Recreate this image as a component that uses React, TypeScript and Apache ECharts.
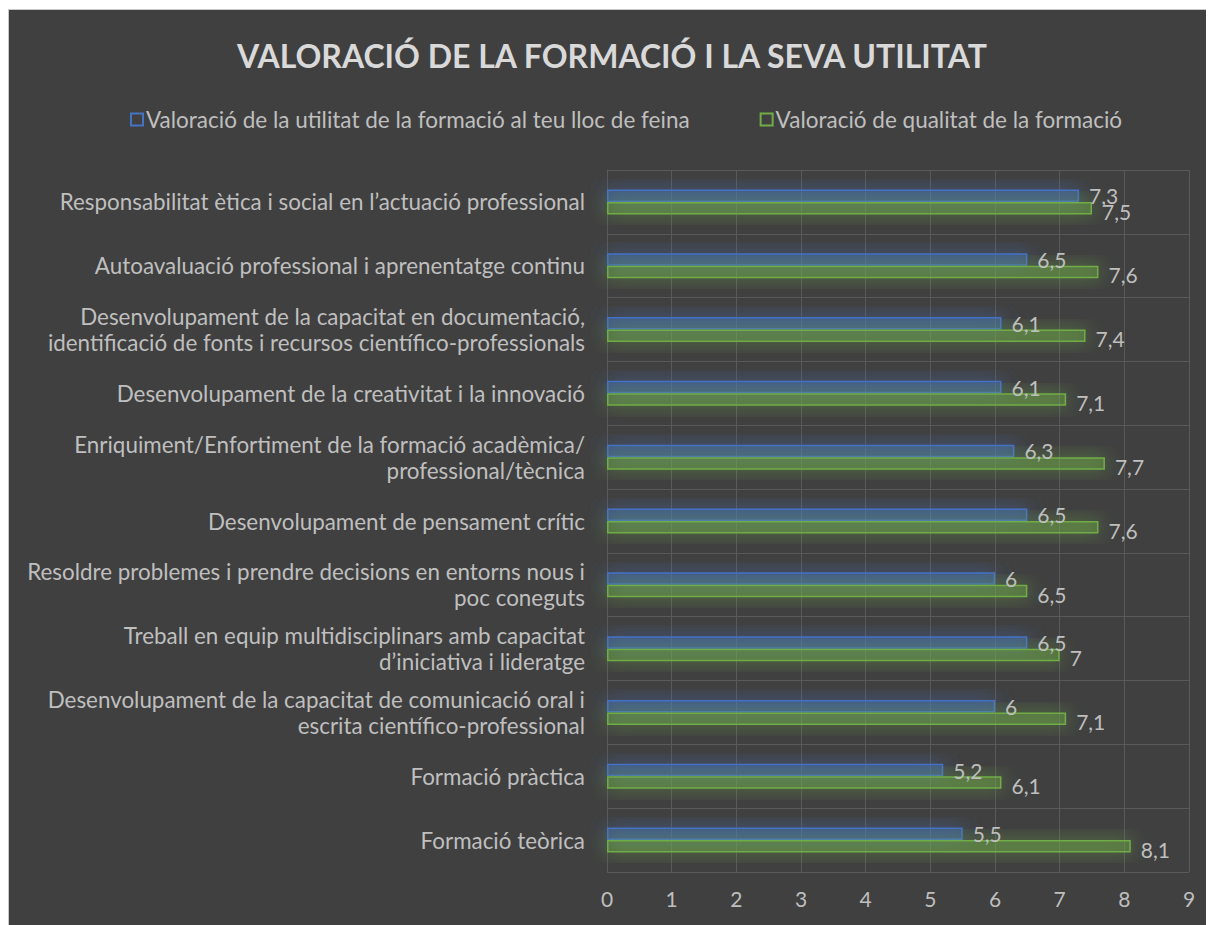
import React, { useEffect, useRef } from "react";
import * as echarts from "echarts";

const categories: string[] = [
  "Responsabilitat ètica i social en l’actuació professional",
  "Autoavaluació professional i aprenentatge continu",
  "Desenvolupament de la capacitat en documentació,\nidentificació de fonts i recursos científico-professionals",
  "Desenvolupament de la creativitat i la innovació",
  "Enriquiment/Enfortiment de la formació acadèmica/\nprofessional/tècnica",
  "Desenvolupament de pensament crític",
  "Resoldre problemes i prendre decisions en entorns nous i\npoc coneguts",
  "Treball en equip multidisciplinars amb capacitat\nd’iniciativa i lideratge",
  "Desenvolupament de la capacitat de comunicació oral i\nescrita científico-professional",
  "Formació pràctica",
  "Formació teòrica",
];

const utilitat: number[] = [7.3, 6.5, 6.1, 6.1, 6.3, 6.5, 6, 6.5, 6, 5.2, 5.5];
const qualitat: number[] = [7.5, 7.6, 7.4, 7.1, 7.7, 7.6, 6.5, 7, 7.1, 6.1, 8.1];

const seriesNames: string[] = [
  "Valoració de la utilitat de la formació al teu lloc de feina",
  "Valoració de qualitat de la formació",
];

const xTicks: number[] = [0, 1, 2, 3, 4, 5, 6, 7, 8, 9];

const TITLE = "VALORACIÓ DE LA FORMACIÓ I LA SEVA UTILITAT";
const FONT = "Lato, 'Noto Sans', sans-serif";
const BLUE = "#4472C4";
const GREEN = "#70AD47";
const TEXT = "#bfbfbf";

export default function App() {
  const ref = useRef<HTMLDivElement>(null);
  useEffect(() => {
    document.body.style.overflow = "hidden";
    if (!ref.current) return;
    const chart = echarts.init(ref.current, undefined, { renderer: "svg" });
    const fmt = (p: any) => String(p.value).replace(".", ",");
    chart.setOption({
      animation: false,
      backgroundColor: "#404040",
      textStyle: { fontFamily: FONT },
      title: {
        text: TITLE,
        left: "center",
        top: 24,
        textStyle: { color: "#d9d9d9", fontSize: 32, fontWeight: "bold", fontFamily: FONT },
      },
      legend: {
        left: 116,
        top: 93,
        itemWidth: 12,
        itemHeight: 12,
        itemGap: 70,
        icon: "rect",
        textStyle: { color: TEXT, fontSize: 22.5, fontFamily: FONT, padding: [0, 0, 0, -2] },
        data: [
          { name: seriesNames[0], itemStyle: { color: "transparent", borderColor: BLUE, borderWidth: 2, shadowBlur: 0 } },
          { name: seriesNames[1], itemStyle: { color: "transparent", borderColor: GREEN, borderWidth: 2, shadowBlur: 0 } },
        ],
      },
      grid: { left: 598, right: 26, top: 160, bottom: 54, containLabel: false },
      xAxis: {
        type: "value",
        min: xTicks[0],
        max: xTicks[xTicks.length - 1],
        interval: 1,
        axisLine: { show: false },
        axisTick: { show: false },
        axisLabel: { color: TEXT, fontSize: 21, margin: 16, fontFamily: FONT },
        splitLine: { show: true, lineStyle: { color: "#595959", width: 1 } },
      },
      yAxis: {
        type: "category",
        data: categories,
        inverse: true,
        axisLine: { show: true, lineStyle: { color: "#595959" } },
        axisTick: { show: false },
        axisLabel: { color: TEXT, fontSize: 22.4, margin: 22, lineHeight: 26, align: "right", fontFamily: FONT },
        splitLine: { show: true, lineStyle: { color: "#595959", width: 1 } },
      },
      series: [
        {
          name: seriesNames[0],
          type: "bar",
          data: utilitat,
          barWidth: 12.5,
          barGap: "0%",
          itemStyle: {
            color: "rgba(68,114,196,0.4)",
            borderColor: BLUE,
            borderWidth: 1.5,
            shadowBlur: 20,
            shadowColor: "rgba(68,114,196,1)",
          },
          label: { show: true, position: "right", distance: 10, color: TEXT, fontSize: 21, formatter: fmt, fontFamily: FONT },
        },
        {
          name: seriesNames[1],
          type: "bar",
          data: qualitat,
          barWidth: 12.5,
          barGap: "0%",
          itemStyle: {
            color: "rgba(112,173,71,0.4)",
            borderColor: GREEN,
            borderWidth: 1.5,
            shadowBlur: 20,
            shadowColor: "rgba(112,173,71,1)",
          },
          label: { show: true, position: "right", distance: 10, color: TEXT, fontSize: 21, formatter: fmt, fontFamily: FONT, offset: [0, 3] },
        },
      ],
    });
    return () => chart.dispose();
  }, []);
  return (
    <div
      ref={ref}
      style={{
        width: 1206,
        height: 916,
        borderTop: "1px solid #c8c8c8",
        borderLeft: "1px solid #c8c8c8",
        marginTop: 1,
      }}
    />
  );
}
